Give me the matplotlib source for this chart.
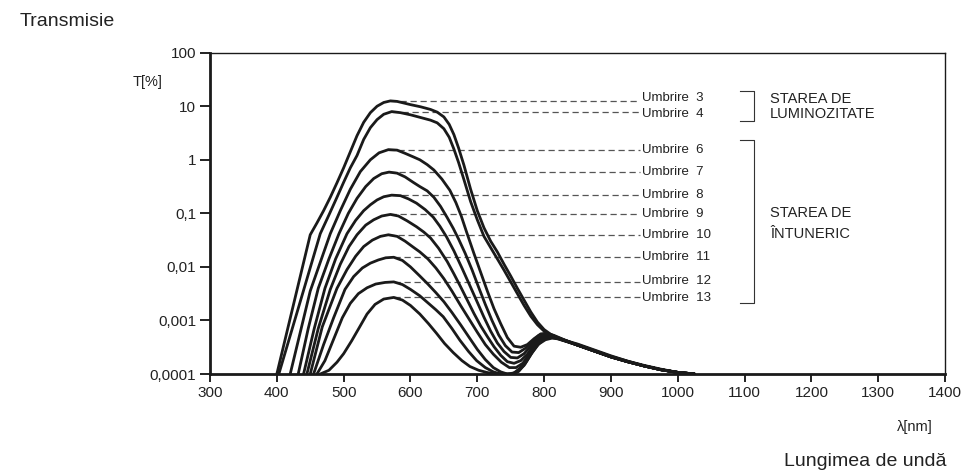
import matplotlib.pyplot as plt
import numpy as np

plt.rcParams['font.family'] = ['Liberation Sans', 'DejaVu Sans']

# lungime de unda (nm) si log10 din transmisie T[%] (axa log)
wl_3 = [400, 425, 450, 460, 470, 480, 490, 500, 510, 520, 530, 540, 550, 560, 570, 580, 590, 600, 615, 630, 640,
        650, 658, 665, 672, 680, 690, 700, 710, 720, 730, 740, 750, 760, 770, 780, 790, 800, 810, 825, 850, 875,
        900, 925, 950, 975, 1000, 1025]
lg_3 = [-4.0, -2.7, -1.40, -1.18, -0.95, -0.70, -0.43, -0.15, 0.15, 0.45, 0.70, 0.88, 1.00, 1.07, 1.10, 1.09, 1.06,
        1.03, 0.99, 0.94, 0.89, 0.80, 0.66, 0.47, 0.22, -0.10, -0.55, -0.95, -1.27, -1.52, -1.72, -1.95, -2.17,
        -2.40, -2.62, -2.84, -3.03, -3.17, -3.26, -3.35, -3.44, -3.55, -3.66, -3.76, -3.84, -3.91, -3.97, -4.0]

wl_4 = [403, 435, 465, 478, 490, 500, 510, 520, 530, 540, 550, 560, 572, 585, 600, 615, 630, 640, 650, 658, 665,
        672, 680, 690, 700, 710, 720, 730, 740, 750, 760, 770, 780, 790, 800, 810, 825, 850, 875, 900, 925, 950,
        975, 1000, 1025]
lg_4 = [-4.0, -2.65, -1.38, -1.03, -0.70, -0.42, -0.15, 0.08, 0.38, 0.60, 0.75, 0.85, 0.90, 0.88, 0.84, 0.79, 0.74,
        0.69, 0.58, 0.42, 0.20, -0.05, -0.37, -0.78, -1.12, -1.43, -1.64, -1.85, -2.06, -2.28, -2.50, -2.72, -2.92,
        -3.08, -3.20, -3.27, -3.36, -3.45, -3.56, -3.67, -3.76, -3.85, -3.92, -3.97, -4.0]

wl_6 = [420, 450, 480, 495, 510, 525, 540, 553, 567, 580, 592, 605, 614, 625, 635, 647, 659, 668, 676, 684, 695,
        705, 715, 725, 735, 745, 755, 765, 775, 785, 795, 805, 815, 830, 850, 875, 900, 925, 950, 975, 1000, 1025]
lg_6 = [-4.0, -2.45, -1.38, -0.95, -0.55, -0.22, 0.0, 0.13, 0.19, 0.18, 0.12, 0.05, 0.0, -0.09, -0.19, -0.36, -0.57,
        -0.80, -1.05, -1.35, -1.75, -2.10, -2.45, -2.78, -3.06, -3.32, -3.48, -3.50, -3.45, -3.34, -3.25, -3.24,
        -3.28, -3.36, -3.46, -3.57, -3.68, -3.77, -3.85, -3.92, -3.97, -4.0]

wl_7 = [432, 447, 462, 478, 493, 507, 520, 533, 545, 557, 568, 580, 592, 604, 614, 625, 635, 645, 655, 664, 672,
        682, 692, 702, 712, 722, 732, 742, 752, 762, 772, 782, 792, 800, 810, 825, 850, 875, 900, 925, 950, 975,
        1000, 1025]
lg_7 = [-4.0, -3.15, -2.40, -1.85, -1.38, -1.0, -0.72, -0.50, -0.35, -0.26, -0.23, -0.25, -0.32, -0.42, -0.50,
        -0.58, -0.70, -0.87, -1.08, -1.28, -1.48, -1.75, -2.05, -2.38, -2.70, -3.0, -3.27, -3.47, -3.59, -3.60,
        -3.52, -3.40, -3.28, -3.25, -3.27, -3.34, -3.46, -3.57, -3.68, -3.77, -3.85, -3.92, -3.97, -4.0]

wl_8 = [440, 456, 472, 488, 505, 518, 530, 540, 550, 560, 572, 585, 597, 609, 622, 634, 644, 654, 665, 677, 690,
        700, 710, 720, 730, 740, 750, 760, 770, 780, 790, 800, 810, 825, 850, 875, 900, 925, 950, 975, 1000, 1025]
lg_8 = [-4.0, -3.15, -2.40, -1.85, -1.38, -1.13, -0.95, -0.84, -0.75, -0.69, -0.66, -0.67, -0.73, -0.81, -0.93,
        -1.07, -1.24, -1.44, -1.70, -2.02, -2.38, -2.66, -2.94, -3.2, -3.42, -3.58, -3.69, -3.70, -3.62, -3.48,
        -3.33, -3.27, -3.28, -3.35, -3.46, -3.57, -3.68, -3.77, -3.85, -3.92, -3.97, -4.0]

wl_9 = [445, 462, 480, 495, 508, 520, 533, 545, 557, 570, 582, 595, 609, 620, 630, 642, 655, 665, 675, 685, 695,
        705, 715, 725, 735, 745, 755, 765, 775, 785, 795, 805, 815, 830, 850, 875, 900, 925, 950, 975, 1000, 1025]
lg_9 = [-4.0, -3.15, -2.42, -1.95, -1.62, -1.40, -1.22, -1.12, -1.05, -1.02, -1.05, -1.14, -1.25, -1.35, -1.46,
        -1.65, -1.90, -2.13, -2.37, -2.62, -2.87, -3.10, -3.30, -3.49, -3.65, -3.77, -3.80, -3.75, -3.63, -3.45,
        -3.31, -3.28, -3.30, -3.37, -3.46, -3.57, -3.68, -3.77, -3.85, -3.92, -3.97, -4.0]

wl_10 = [450, 468, 490, 505, 518, 530, 543, 555, 567, 580, 592, 604, 614, 626, 638, 650, 662, 675, 688, 700, 712,
         724, 736, 748, 758, 768, 778, 788, 798, 808, 820, 835, 850, 875, 900, 925, 950, 975, 1000, 1025]
lg_10 = [-4.0, -3.12, -2.40, -2.05, -1.80, -1.62, -1.50, -1.43, -1.40, -1.43, -1.52, -1.63, -1.72, -1.85, -2.02,
         -2.22, -2.45, -2.72, -2.98, -3.22, -3.45, -3.63, -3.78, -3.88, -3.88, -3.80, -3.63, -3.44, -3.32, -3.30,
         -3.33, -3.39, -3.46, -3.57, -3.68, -3.77, -3.85, -3.92, -3.97, -4.0]

wl_11 = [455, 470, 485, 502, 515, 528, 540, 552, 563, 575, 588, 600, 614, 626, 638, 650, 662, 675, 688, 700, 712,
         724, 735, 745, 755, 765, 775, 785, 795, 805, 815, 830, 850, 875, 900, 925, 950, 975, 1000, 1025]
lg_11 = [-4.0, -3.45, -2.95, -2.42, -2.18, -2.02, -1.93, -1.87, -1.83, -1.82, -1.88, -2.0, -2.17, -2.32, -2.48,
         -2.65, -2.85, -3.08, -3.32, -3.54, -3.73, -3.88, -3.96, -4.0, -3.98, -3.88, -3.70, -3.50, -3.36, -3.31,
         -3.32, -3.38, -3.46, -3.57, -3.68, -3.77, -3.85, -3.92, -3.97, -4.0]

wl_12 = [460, 472, 485, 498, 510, 522, 535, 548, 562, 575, 588, 600, 614, 626, 638, 649, 662, 674, 687, 699, 712,
         724, 735, 750, 760, 770, 780, 790, 800, 810, 820, 835, 850, 875, 900, 925, 950, 975, 1000, 1025]
lg_12 = [-4.0, -3.75, -3.35, -2.95, -2.68, -2.50, -2.39, -2.32, -2.29, -2.28, -2.33, -2.42, -2.54, -2.67, -2.80,
         -2.93, -3.15, -3.37, -3.58, -3.75, -3.88, -3.96, -4.0, -4.0, -3.96, -3.84, -3.64, -3.46, -3.35, -3.32,
         -3.33, -3.39, -3.46, -3.57, -3.68, -3.77, -3.85, -3.92, -3.97, -4.0]

wl_13 = [465, 478, 490, 500, 512, 524, 535, 547, 560, 575, 588, 600, 614, 627, 639, 651, 664, 677, 689, 702, 714,
         727, 752, 762, 772, 782, 792, 802, 812, 825, 850, 875, 900, 925, 950, 975, 1000, 1025]
lg_13 = [-4.0, -3.93, -3.78, -3.62, -3.38, -3.12, -2.88, -2.70, -2.60, -2.57, -2.62, -2.72, -2.88, -3.06, -3.24,
         -3.43, -3.60, -3.75, -3.86, -3.93, -3.97, -4.0, -4.0, -3.95, -3.80, -3.60, -3.44, -3.36, -3.33, -3.35,
         -3.46, -3.57, -3.68, -3.77, -3.85, -3.92, -3.97, -4.0]

umbre = ['3', '4', '6', '7', '8', '9', '10', '11', '12', '13']
curbe = [(wl_3, lg_3), (wl_4, lg_4), (wl_6, lg_6), (wl_7, lg_7), (wl_8, lg_8),
         (wl_9, lg_9), (wl_10, lg_10), (wl_11, lg_11), (wl_12, lg_12), (wl_13, lg_13)]
# mic decalaj vertical al etichetelor (puncte), ca Umbrire 3 si 4 sa nu se suprapuna
decalaj = [1.8, -1.8, 0, 0, 0, 0, 0, 0, 0.5, -0.5]

y_ticks = [1e-4, 1e-3, 1e-2, 1e-1, 1, 10, 100]
y_labels = ['0,0001', '0,001', '0,01', '0,1', '1', '10', '100']
x_ticks = list(range(300, 1401, 100))

fig = plt.figure(figsize=(9.66, 4.72), dpi=100)
ax = fig.add_axes([0.2174, 0.2076, 0.7609, 0.6808])

for (wl, lg), u, d in zip(curbe, umbre, decalaj):
    t = 10.0 ** np.array(lg)
    ax.plot(wl, t, color='#1a1a1a', lw=2.0, solid_joinstyle='round', solid_capstyle='round', zorder=3)
    i = int(np.argmax(t))
    ax.plot([wl[i], 943], [t[i], t[i]], color='#555555', lw=0.9, dashes=(5, 3), zorder=2)
    ax.annotate('Umbrire  ' + u, xy=(947, t[i]), xytext=(0, d), textcoords='offset points',
                fontsize=9.5, va='center', ha='left', color='#222222')

# paranteze de grupare
ax.plot([1093, 1114, 1114, 1093], [19, 19, 5.25, 5.25], color='#333333', lw=0.8)
ax.plot([1093, 1114, 1114, 1093], [2.32, 2.32, 0.00211, 0.00211], color='#333333', lw=0.8)
ax.text(1138, 13.5, 'STAREA DE', fontsize=10.5, va='center', color='#222222')
ax.text(1138, 7.1, 'LUMINOZITATE', fontsize=10.5, va='center', color='#222222')
ax.text(1138, 0.1, 'STAREA DE', fontsize=10.5, va='center', color='#222222')
ax.text(1138, 0.041, 'ÎNTUNERIC', fontsize=10.5, va='center', color='#222222')

ax.set_yscale('log')
ax.set_xlim(300, 1400)
ax.set_ylim(1e-4, 100)
ax.set_yticks(y_ticks)
ax.set_yticklabels(y_labels)
ax.minorticks_off()
ax.set_xticks(x_ticks)
ax.tick_params(axis='y', length=7, width=1.4, pad=3, labelsize=11, colors='#222222')
ax.tick_params(axis='x', length=5.5, width=1.4, pad=3, labelsize=11, colors='#222222')
for s in ['left', 'bottom']:
    ax.spines[s].set_linewidth(2.0)
for s in ['top', 'right']:
    ax.spines[s].set_linewidth(1.0)
for s in ax.spines.values():
    s.set_color('#1a1a1a')

fig.text(20 / 966, 1 - 22 / 472, 'Transmisie', fontsize=14, va='center', ha='left', color='#222222')
fig.text(148 / 966, 1 - 82 / 472, 'T[%]', fontsize=10.5, va='center', ha='center', color='#222222')
fig.text(933 / 966, 1 - 427 / 472, 'λ[nm]', fontsize=10.5, va='center', ha='right', color='#222222')
fig.text(947 / 966, 1 - 462 / 472, 'Lungimea de undă', fontsize=14, va='center', ha='right', color='#222222')

fig.savefig('out.png', dpi=100)
